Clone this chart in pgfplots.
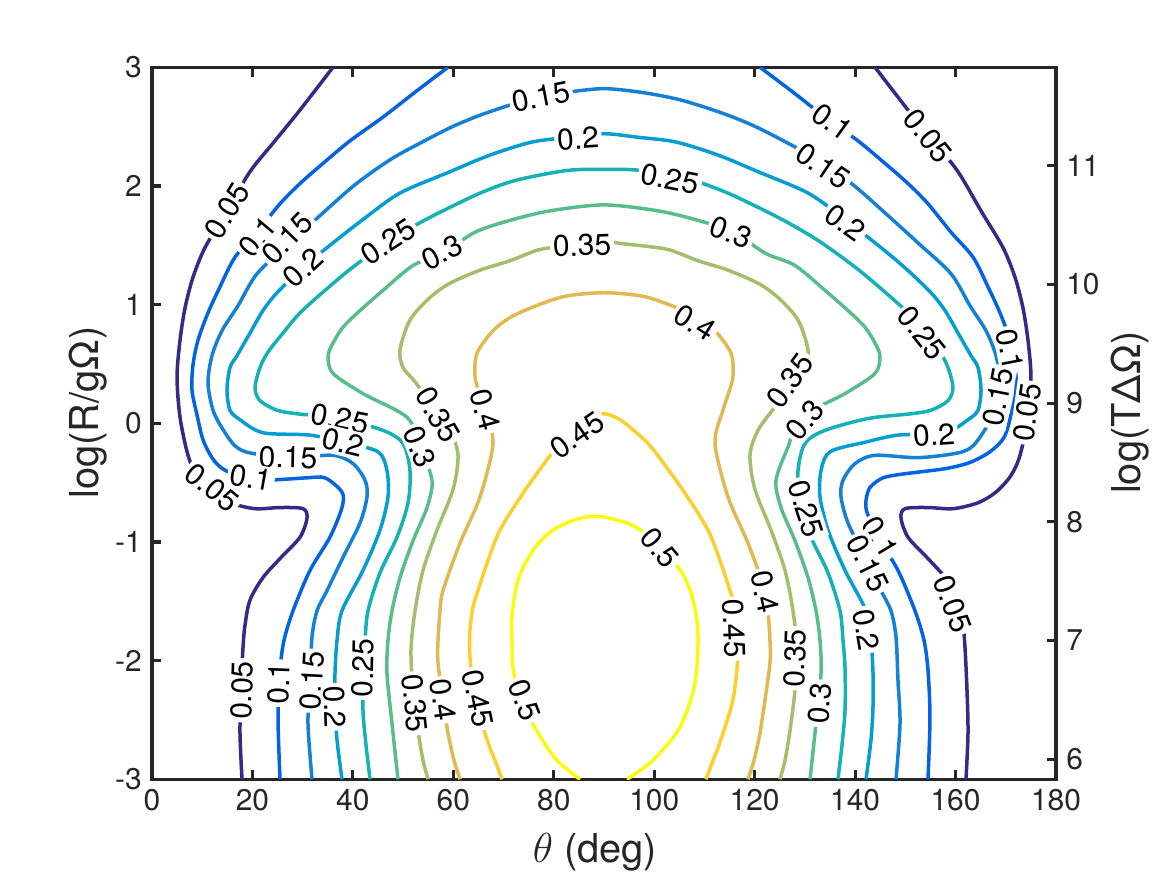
\documentclass[border=0pt]{standalone}
\usepackage{pgfplots}
\pgfplotsset{compat=1.18}
\usepackage{fontspec}
\setmainfont{TeX Gyre Heros}
\definecolor{axc}{HTML}{262626}
\definecolor{c05}{rgb}{0.2081,0.1663,0.5292}
\definecolor{c10}{rgb}{0.0117,0.3875,0.8820}
\definecolor{c15}{rgb}{0.0779,0.5040,0.8384}
\definecolor{c20}{rgb}{0.0265,0.6137,0.8135}
\definecolor{c25}{rgb}{0.0843,0.6928,0.7062}
\definecolor{c30}{rgb}{0.3482,0.7424,0.5473}
\definecolor{c35}{rgb}{0.6473,0.7456,0.4188}
\definecolor{c40}{rgb}{0.8824,0.7274,0.3217}
\definecolor{c45}{rgb}{0.9880,0.8066,0.1794}
\definecolor{c50}{rgb}{0.9763,0.9831,0.0538}
\tikzset{clab/.style={fill=white, inner sep=1bp, text=black, font=\fontsize{10.3}{12}\selectfont},
  cl/.style={line width=1.2bp, smooth, tension=0.5, mark=none}}
\begin{document}
\begin{tikzpicture}
\path[use as bounding box] (0,0) rectangle (400bp,300bp);
\begin{axis}[
  at={(52.1bp,32.9bp)}, anchor=south west,
  scale only axis, width=309.85bp, height=244.05bp,
  xmin=0, xmax=180, ymin=-3, ymax=3,
  xtick={0,20,...,180}, ytick={-3,-2,...,3},
  xtick pos=both, ytick pos=left,
  tick align=inside, major tick length=3.2bp,
  axis line style={axc, line width=1.1bp},
  every tick/.style={axc, line width=1.1bp},
  tick label style={text=axc, font=\fontsize{10.3}{12}\selectfont},
  /pgf/number format/assume math mode=true,
  xlabel={$\theta$ (deg)},
  xlabel style={at={(axis description cs:0.49,-0.1024)}, anchor=center, text=axc, font=\fontsize{13.7}{16}\selectfont},
  ylabel={log(R/gΩ)},
  ylabel style={at={(axis description cs:-0.0707,0.515)}, anchor=center, text=axc, font=\fontsize{13.7}{16}\selectfont},
]
% 0.05
\addplot[cl, c05] coordinates {(36.04,3.00) (29.47,2.64) (24.09,2.36) (19.51,2.12) (14.93,1.79) (10.55,1.48) (8.16,1.23) (6.57,0.97) (5.58,0.70) (4.98,0.39) (5.58,0.05) (7.17,-0.27) (8.96,-0.44) (11.95,-0.58) (15.53,-0.67) (20.51,-0.72) (25.49,-0.71) (30.07,-0.72) (30.86,-0.80) (29.47,-0.96) (25.49,-1.14) (22.10,-1.30) (19.51,-1.49) (18.52,-1.70) (18.12,-1.89) (17.72,-2.25) (17.52,-2.61) (17.92,-3.00)};
\addplot[cl, c05] coordinates {(143.96,3.00) (150.53,2.64) (155.91,2.36) (160.49,2.12) (165.07,1.79) (169.45,1.48) (171.84,1.23) (173.43,0.97) (174.42,0.70) (175.02,0.39) (174.42,0.05) (172.83,-0.27) (171.04,-0.44) (168.05,-0.58) (164.47,-0.67) (159.49,-0.72) (154.51,-0.71) (149.93,-0.72) (149.14,-0.80) (150.53,-0.96) (154.51,-1.14) (157.90,-1.30) (160.49,-1.49) (161.48,-1.70) (161.88,-1.89) (162.28,-2.25) (162.48,-2.61) (162.08,-3.00)};
% 0.1
\addplot[cl, c10] coordinates {(58.94,3.00) (52.37,2.79) (46.00,2.58) (39.43,2.38) (34.05,2.19) (29.47,2.02) (25.49,1.85) (20.91,1.61) (16.53,1.40) (13.54,1.15) (11.15,0.93) (9.16,0.70) (8.16,0.49) (7.96,0.28) (8.96,0.07) (10.16,-0.14) (11.95,-0.29) (13.94,-0.38) (17.52,-0.45) (21.90,-0.48) (27.08,-0.47) (30.86,-0.46) (34.45,-0.46) (37.83,-0.58) (37.83,-0.71) (35.44,-0.96) (31.46,-1.24) (28.08,-1.58) (26.28,-1.83) (25.49,-2.08) (25.09,-2.48) (25.49,-3.00)};
\addplot[cl, c10] coordinates {(121.06,3.00) (127.63,2.79) (134.00,2.58) (140.57,2.38) (145.95,2.19) (150.53,2.02) (154.51,1.85) (159.09,1.61) (163.47,1.40) (166.46,1.15) (168.85,0.93) (170.84,0.70) (171.84,0.49) (172.04,0.28) (171.04,0.07) (169.65,-0.12) (166.86,-0.24) (162.88,-0.33) (158.30,-0.38) (152.92,-0.41) (149.14,-0.43) (145.55,-0.46) (142.97,-0.54) (142.17,-0.65) (142.37,-0.75) (144.56,-0.96) (148.54,-1.24) (151.92,-1.58) (153.72,-1.83) (154.51,-2.08) (154.91,-2.48) (154.51,-3.00)};
% 0.15
\addplot[cl, c15] coordinates {(31.86,-3.00) (31.06,-2.53) (31.46,-2.17) (31.86,-1.80) (32.86,-1.58) (34.85,-1.41) (38.03,-1.13) (41.42,-0.84) (42.81,-0.62) (42.41,-0.48) (40.02,-0.34) (36.04,-0.27) (27.48,-0.29) (19.51,-0.25) (16.53,-0.19) (13.94,-0.04) (12.15,0.11) (11.15,0.34) (11.95,0.57) (13.94,0.78) (17.12,0.99) (20.91,1.26) (27.48,1.52) (33.45,1.75) (40.42,2.01) (47.39,2.22) (53.36,2.36) (59.34,2.49) (64.32,2.58) (69.69,2.66) (75.27,2.73) (81.24,2.78) (86.62,2.81) (90.00,2.82) (93.38,2.81) (98.76,2.78) (104.73,2.73) (110.31,2.66) (115.68,2.58) (120.66,2.49) (126.64,2.36) (132.61,2.22) (139.58,2.01) (146.55,1.75) (152.52,1.52) (159.09,1.26) (162.88,0.99) (166.06,0.78) (168.05,0.57) (168.85,0.34) (167.85,0.11) (166.06,-0.04) (163.47,-0.19) (160.49,-0.25) (152.52,-0.29) (143.96,-0.27) (139.98,-0.34) (137.59,-0.48) (137.19,-0.62) (138.58,-0.84) (141.97,-1.13) (145.15,-1.41) (147.14,-1.58) (148.14,-1.80) (148.54,-2.17) (148.94,-2.53) (148.14,-3.00)};
% 0.2
\addplot[cl, c20] coordinates {(37.83,-3.00) (36.84,-2.67) (36.44,-2.39) (36.44,-2.10) (36.84,-1.83) (37.83,-1.58) (42.01,-1.24) (45.40,-0.90) (46.99,-0.62) (46.79,-0.40) (45.00,-0.24) (38.03,-0.16) (31.46,-0.10) (22.10,-0.08) (17.52,0.03) (15.53,0.11) (14.93,0.28) (15.53,0.47) (16.93,0.57) (19.51,0.76) (22.10,0.95) (24.89,1.10) (30.07,1.31) (35.44,1.50) (42.41,1.73) (49.38,1.94) (59.34,2.12) (67.30,2.26) (75.67,2.37) (83.23,2.41) (90.00,2.44) (96.77,2.41) (104.33,2.37) (112.70,2.26) (120.66,2.12) (130.62,1.94) (137.59,1.73) (144.56,1.50) (149.93,1.31) (155.11,1.10) (157.90,0.95) (160.49,0.76) (163.07,0.57) (164.47,0.47) (165.07,0.28) (164.47,0.11) (162.48,0.03) (157.90,-0.08) (148.54,-0.10) (141.97,-0.16) (135.00,-0.24) (133.21,-0.40) (133.01,-0.62) (134.60,-0.90) (137.99,-1.24) (142.17,-1.58) (143.16,-1.83) (143.56,-2.10) (143.56,-2.39) (143.16,-2.67) (142.17,-3.00)};
% 0.25
\addplot[cl, c25] coordinates {(43.41,-3.00) (42.61,-2.71) (42.01,-2.42) (42.01,-2.06) (42.41,-1.83) (43.01,-1.58) (45.40,-1.26) (48.78,-0.96) (50.98,-0.67) (51.37,-0.40) (49.98,-0.17) (46.00,-0.06) (37.43,0.04) (28.87,0.08) (24.89,0.11) (21.51,0.19) (20.51,0.30) (21.51,0.47) (23.10,0.60) (26.08,0.76) (29.47,0.93) (34.45,1.12) (39.83,1.31) (46.99,1.53) (53.36,1.69) (59.34,1.82) (65.91,1.95) (72.68,2.05) (82.63,2.13) (90.00,2.14) (97.37,2.13) (107.32,2.05) (114.09,1.95) (120.66,1.82) (126.64,1.69) (133.01,1.53) (140.17,1.31) (145.55,1.12) (150.53,0.93) (153.92,0.76) (156.90,0.60) (158.49,0.47) (159.49,0.30) (158.49,0.19) (155.11,0.11) (151.13,0.08) (142.57,0.04) (134.00,-0.06) (130.02,-0.17) (128.63,-0.40) (129.02,-0.67) (131.22,-0.96) (134.60,-1.26) (136.99,-1.58) (137.59,-1.83) (137.99,-2.06) (137.99,-2.42) (137.39,-2.71) (136.59,-3.00)};
% 0.3
\addplot[cl, c30] coordinates {(48.98,-3.00) (47.79,-2.53) (46.79,-2.11) (46.99,-1.83) (47.79,-1.58) (49.38,-1.30) (51.97,-0.99) (54.76,-0.71) (55.75,-0.48) (53.36,-0.20) (50.78,0.05) (42.01,0.25) (36.04,0.42) (35.05,0.56) (35.84,0.66) (38.03,0.81) (41.42,0.95) (46.00,1.12) (51.97,1.33) (57.74,1.43) (64.32,1.61) (71.29,1.71) (79.25,1.79) (90.00,1.84) (100.75,1.79) (108.71,1.71) (115.68,1.61) (122.26,1.43) (128.03,1.33) (134.00,1.12) (138.58,0.95) (141.97,0.81) (144.16,0.66) (144.95,0.56) (143.96,0.42) (137.99,0.25) (129.22,0.05) (126.64,-0.20) (124.25,-0.48) (125.24,-0.71) (128.03,-0.99) (130.62,-1.30) (132.21,-1.58) (133.01,-1.83) (133.21,-2.11) (132.21,-2.53) (131.02,-3.00)};
% 0.35
\addplot[cl, c35] coordinates {(54.96,-3.00) (53.96,-2.84) (52.97,-2.59) (51.97,-2.25) (51.57,-1.91) (52.37,-1.58) (53.96,-1.24) (56.75,-0.90) (59.93,-0.56) (60.93,-0.27) (59.34,-0.06) (55.75,0.15) (52.37,0.35) (49.98,0.47) (49.38,0.62) (51.37,0.87) (55.35,1.06) (59.34,1.18) (65.31,1.29) (71.29,1.37) (76.86,1.46) (81.24,1.49) (85.62,1.51) (90.00,1.53) (94.38,1.51) (98.76,1.49) (103.14,1.46) (108.71,1.37) (114.69,1.29) (120.66,1.18) (124.65,1.06) (128.63,0.87) (130.62,0.62) (130.02,0.47) (127.63,0.35) (124.25,0.15) (120.66,-0.06) (119.07,-0.27) (120.07,-0.56) (123.25,-0.90) (126.04,-1.24) (127.63,-1.58) (128.43,-1.91) (128.03,-2.25) (127.03,-2.59) (126.04,-2.84) (125.04,-3.00)};
% 0.4
\addplot[cl, c40] coordinates {(61.33,-3.00) (60.13,-2.84) (58.94,-2.61) (57.94,-2.33) (56.95,-2.02) (56.95,-1.83) (57.35,-1.58) (57.94,-1.41) (61.33,-1.01) (65.31,-0.62) (67.90,-0.17) (66.31,0.11) (65.31,0.24) (64.32,0.39) (64.71,0.59) (67.90,0.78) (71.29,0.89) (75.87,0.98) (82.24,1.07) (90.00,1.10) (97.76,1.07) (104.13,0.98) (108.71,0.89) (112.10,0.78) (115.29,0.59) (115.68,0.39) (114.69,0.24) (113.69,0.11) (112.10,-0.17) (114.69,-0.62) (118.67,-1.01) (122.06,-1.41) (122.65,-1.58) (123.05,-1.83) (123.05,-2.02) (122.06,-2.33) (121.06,-2.61) (119.87,-2.84) (118.67,-3.00)};
% 0.45
\addplot[cl, c45] coordinates {(69.69,-3.00) (68.30,-2.84) (66.91,-2.69) (64.32,-2.33) (63.32,-1.97) (63.32,-1.74) (63.92,-1.55) (64.91,-1.41) (66.71,-1.18) (69.29,-0.90) (73.87,-0.59) (78.25,-0.33) (81.24,-0.17) (84.63,-0.04) (87.21,0.04) (90.00,0.08) (92.79,0.04) (95.37,-0.04) (98.76,-0.17) (101.75,-0.33) (106.13,-0.59) (110.71,-0.90) (113.29,-1.18) (115.09,-1.41) (116.08,-1.55) (116.68,-1.74) (116.68,-1.97) (115.68,-2.33) (113.09,-2.69) (111.70,-2.84) (110.31,-3.00)};
% 0.5
\addplot[cl, c50] coordinates {(85.22,-3.00) (80.64,-2.84) (76.86,-2.61) (73.28,-2.33) (71.88,-2.06) (71.68,-1.83) (71.68,-1.63) (72.88,-1.32) (75.87,-1.07) (79.85,-0.90) (85.22,-0.80) (90.00,-0.79) (96.18,-0.87) (101.15,-1.05) (105.53,-1.26) (107.72,-1.49) (108.72,-1.77) (108.12,-2.19) (105.14,-2.56) (99.76,-2.84) (94.58,-3.00)};
% labels
\node[clab, rotate=58] at (axis cs:14.93,1.79) {0.05};
\node[clab, rotate=50] at (axis cs:21.11,1.57) {0.1};
\node[clab, rotate=46] at (axis cs:26.88,1.56) {0.15};
\node[clab, rotate=43] at (axis cs:30.07,1.31) {0.2};
\node[clab, rotate=33] at (axis cs:46.99,1.53) {0.25};
\node[clab, rotate=27] at (axis cs:57.74,1.44) {0.3};
\node[clab, rotate=11] at (axis cs:77.46,2.75) {0.15};
\node[clab, rotate=4] at (axis cs:84.82,2.40) {0.2};
\node[clab, rotate=-11] at (axis cs:103.14,2.06) {0.25};
\node[clab, rotate=-21] at (axis cs:115.29,1.61) {0.3};
\node[clab, rotate=2] at (axis cs:85.62,1.50) {0.35};
\node[clab, rotate=-32] at (axis cs:108.12,0.85) {0.4};
\node[clab, rotate=-36] at (axis cs:135.40,2.54) {0.1};
\node[clab, rotate=-51] at (axis cs:154.52,2.42) {0.05};
\node[clab, rotate=-34] at (axis cs:133.61,2.17) {0.15};
\node[clab, rotate=-35] at (axis cs:137.99,1.69) {0.2};
\node[clab, rotate=-51] at (axis cs:153.32,0.76) {0.25};
\node[clab, rotate=-79] at (axis cs:170.85,0.62) {0.1};
\node[clab, rotate=79] at (axis cs:168.46,0.22) {0.15};
\node[clab, rotate=82] at (axis cs:174.23,0.09) {0.05};
\node[clab, rotate=4] at (axis cs:155.71,-0.10) {0.2};
\node[clab, rotate=50] at (axis cs:130.03,0.03) {0.3};
\node[clab, rotate=54] at (axis cs:127.04,0.36) {0.35};
\node[clab, rotate=-72] at (axis cs:130.22,-0.72) {0.25};
\node[clab, rotate=-59] at (axis cs:144.96,-0.96) {0.1};
\node[clab, rotate=-64] at (axis cs:142.57,-1.18) {0.15};
\node[clab, rotate=-80] at (axis cs:142.17,-1.74) {0.2};
\node[clab, rotate=-69] at (axis cs:159.5,-1.52) {0.05};
\node[clab, rotate=-77] at (axis cs:122.06,-1.42) {0.4};
\node[clab, rotate=-88] at (axis cs:115.89,-1.73) {0.45};
\node[clab, rotate=88] at (axis cs:128.03,-1.98) {0.35};
\node[clab, rotate=85] at (axis cs:133.01,-2.36) {0.3};
\node[clab, rotate=-50] at (axis cs:101.15,-1.05) {0.5};
\node[clab, rotate=35] at (axis cs:84.63,-0.10) {0.45};
\node[clab, rotate=-11] at (axis cs:37.43,0.04) {0.25};
\node[clab, rotate=-14] at (axis cs:38.03,-0.16) {0.2};
\node[clab, rotate=-1] at (axis cs:27.08,-0.29) {0.15};
\node[clab, rotate=-10] at (axis cs:19.71,-0.46) {0.1};
\node[clab, rotate=-39] at (axis cs:11.95,-0.54) {0.05};
\node[clab, rotate=-60] at (axis cs:56.95,0.07) {0.35};
\node[clab, rotate=-68] at (axis cs:53.36,-0.20) {0.3};
\node[clab, rotate=-75] at (axis cs:66.31,0.11) {0.4};
\node[clab, rotate=88] at (axis cs:17.92,-2.25) {0.05};
\node[clab, rotate=88] at (axis cs:25.29,-2.19) {0.1};
\node[clab, rotate=87] at (axis cs:31.86,-2.17) {0.15};
\node[clab, rotate=-88] at (axis cs:36.44,-2.39) {0.2};
\node[clab, rotate=89] at (axis cs:42.01,-2.06) {0.25};
\node[clab, rotate=-84] at (axis cs:52.37,-2.36) {0.35};
\node[clab, rotate=-82] at (axis cs:57.94,-2.33) {0.4};
\node[clab, rotate=-78] at (axis cs:64.91,-2.32) {0.45};
\node[clab, rotate=-69] at (axis cs:74.27,-2.33) {0.5};
\end{axis}
\begin{axis}[
  at={(52.1bp,32.9bp)}, anchor=south west,
  scale only axis, width=309.85bp, height=244.05bp,
  xmin=0, xmax=180, ymin=5.831, ymax=11.831,
  axis x line=none, axis y line*=right,
  ytick={6,7,...,11},
  tick align=inside, major tick length=3.2bp,
  axis line style={axc, line width=1.1bp, -},
  every tick/.style={axc, line width=1.1bp},
  tick label style={text=axc, font=\fontsize{10.3}{12}\selectfont},
  /pgf/number format/assume math mode=true,
  ylabel={log(TΔΩ)},
  ylabel style={at={(axis description cs:1.0818,0.515)}, anchor=center, rotate=0, text=axc, font=\fontsize{13.7}{16}\selectfont},
]
\end{axis}
\end{tikzpicture}
\end{document}
